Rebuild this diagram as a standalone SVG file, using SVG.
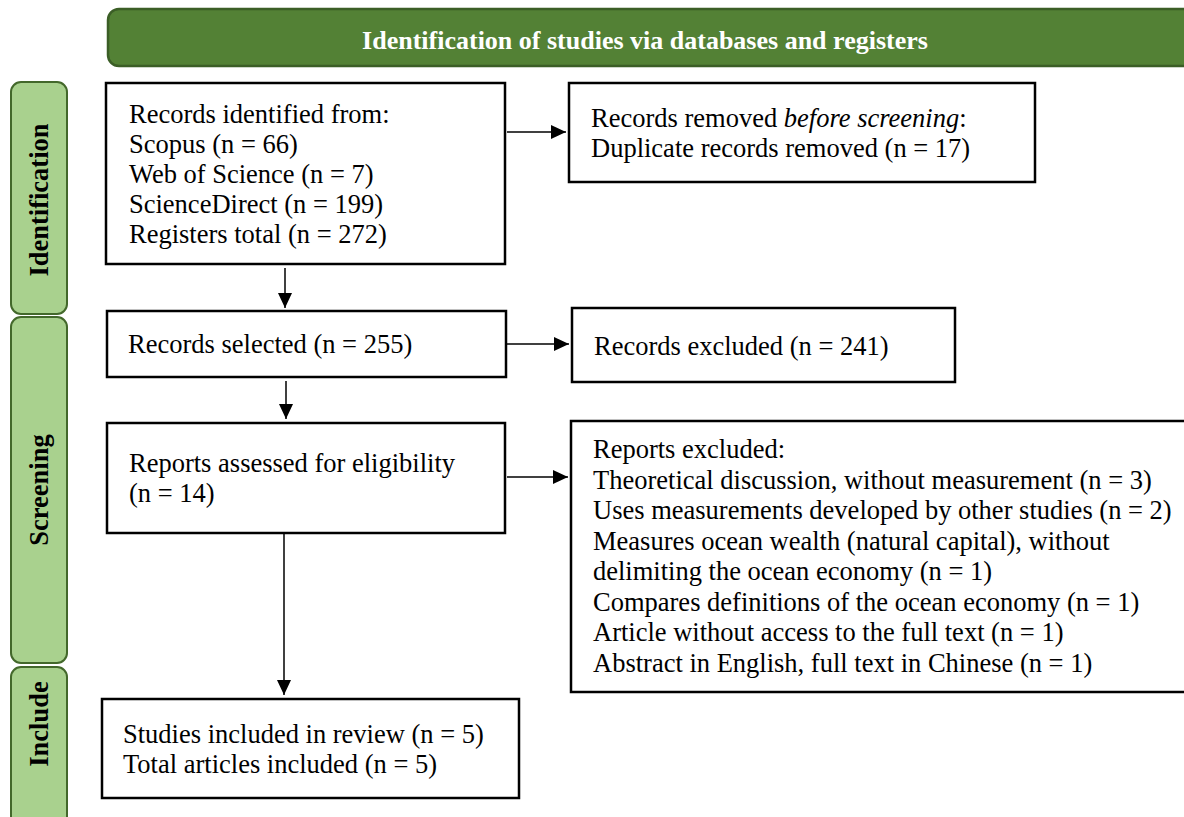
<svg xmlns="http://www.w3.org/2000/svg" width="1184" height="817" viewBox="0 0 1184 817">
<style>
.box{fill:#fff;stroke:#000;stroke-width:2.5}
.side{fill:#a9d18e;stroke:#43682b;stroke-width:2}
.t{font-family:"Liberation Serif","Times New Roman",serif;font-size:26.5px;fill:#000}
.sideT{font-family:"Liberation Serif","Times New Roman",serif;font-size:26.5px;font-weight:bold;fill:#000}
.head{font-family:"Liberation Serif","Times New Roman",serif;font-size:26px;font-weight:bold;fill:#fff}
.c{stroke:#000;stroke-width:1.5;fill:none}
</style>
<defs>
<marker id="ah" viewBox="0 0 15 14" refX="15" refY="7" markerWidth="15" markerHeight="14" markerUnits="userSpaceOnUse" orient="auto">
<path d="M0,0 L15,7 L0,14 z" fill="#000"/>
</marker>
</defs>
<g id="header">
<rect x="108" y="9" width="1090" height="57" rx="11" fill="#538135" stroke="#3b5e26" stroke-width="2.5"/>
<text class="head" x="645" y="49" text-anchor="middle">Identification of studies via databases and registers</text>
</g>
<g id="side-identification">
<rect class="side" x="11" y="82" width="56" height="232" rx="10"/>
<text class="sideT" transform="translate(48,200) rotate(-90)" text-anchor="middle">Identification</text>
</g>
<g id="side-screening">
<rect class="side" x="11" y="317" width="56" height="346" rx="10"/>
<text class="sideT" transform="translate(48,490) rotate(-90)" text-anchor="middle">Screening</text>
</g>
<g id="side-include">
<rect class="side" x="11" y="667" width="56" height="170" rx="10"/>
<text class="sideT" transform="translate(48,724) rotate(-90)" text-anchor="middle">Include</text>
</g>
<g id="records-identified">
<rect class="box" x="106" y="83" width="399" height="181"/>
<text class="t" x="129" y="123">Records identified from:</text>
<text class="t" x="129" y="153">Scopus (n = 66)</text>
<text class="t" x="129" y="183">Web of Science (n = 7)</text>
<text class="t" x="129" y="213">ScienceDirect (n = 199)</text>
<text class="t" x="129" y="243">Registers total (n = 272)</text>
</g>
<g id="records-removed">
<rect class="box" x="569" y="83" width="466" height="99"/>
<text class="t" x="591" y="127">Records removed <tspan font-style="italic">before screening</tspan>:</text>
<text class="t" x="591" y="157">Duplicate records removed (n = 17)</text>
</g>
<g id="records-selected">
<rect class="box" x="107" y="311" width="399" height="66"/>
<text class="t" x="128" y="353">Records selected (n = 255)</text>
</g>
<g id="records-excluded">
<rect class="box" x="572" y="308" width="383" height="74"/>
<text class="t" x="594" y="355">Records excluded (n = 241)</text>
</g>
<g id="reports-assessed">
<rect class="box" x="107" y="423" width="398" height="110"/>
<text class="t" x="129" y="472">Reports assessed for eligibility</text>
<text class="t" x="129" y="502">(n = 14)</text>
</g>
<g id="reports-excluded">
<rect class="box" x="571" y="421" width="630" height="271"/>
<text class="t" x="593" y="458">Reports excluded:</text>
<text class="t" x="593" y="488.5">Theoretical discussion, without measurement (n = 3)</text>
<text class="t" x="593" y="519">Uses measurements developed by other studies (n = 2)</text>
<text class="t" x="593" y="549.5">Measures ocean wealth (natural capital), without</text>
<text class="t" x="593" y="580">delimiting the ocean economy (n = 1)</text>
<text class="t" x="593" y="610.5">Compares definitions of the ocean economy (n = 1)</text>
<text class="t" x="593" y="641">Article without access to the full text (n = 1)</text>
<text class="t" x="593" y="671.5">Abstract in English, full text in Chinese (n = 1)</text>
</g>
<g id="studies-included">
<rect class="box" x="102" y="699" width="417" height="99"/>
<text class="t" x="123" y="743">Studies included in review (n = 5)</text>
<text class="t" x="123" y="773">Total articles included (n = 5)</text>
</g>
<g id="connectors">
<line class="c" x1="507" y1="132" x2="566" y2="132" marker-end="url(#ah)"/>
<line class="c" x1="285" y1="268" x2="285" y2="308" marker-end="url(#ah)"/>
<line class="c" x1="507" y1="344" x2="569" y2="344" marker-end="url(#ah)"/>
<line class="c" x1="286" y1="381" x2="286" y2="419" marker-end="url(#ah)"/>
<line class="c" x1="507" y1="477" x2="568" y2="477" marker-end="url(#ah)"/>
<line class="c" x1="284" y1="533" x2="284" y2="695" marker-end="url(#ah)"/>
</g>
</svg>
